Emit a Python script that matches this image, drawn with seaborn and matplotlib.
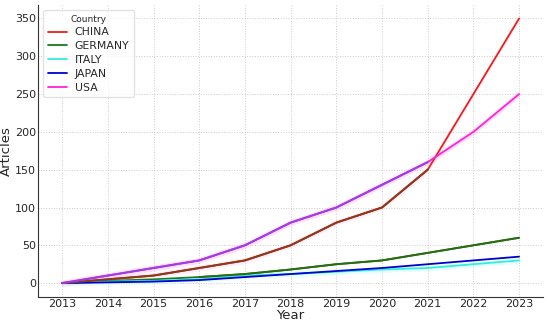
import numpy as np
import pandas as pd
import seaborn as sb
import matplotlib.pyplot as plt

years = list(range(2013, 2024))
countries = ["CHINA", "GERMANY", "ITALY", "JAPAN", "USA"]
china = [0, 5, 10, 20, 30, 50, 80, 100, 150, 250, 350]
germany = [0, 3, 5, 8, 12, 18, 25, 30, 40, 50, 60]
italy = [0, 2, 3, 5, 10, 12, 15, 18, 20, 25, 30]
japan = [0, 1, 2, 4, 8, 12, 16, 20, 25, 30, 35]
usa = [0, 10, 20, 30, 50, 80, 100, 130, 160, 200, 250]

colors = {"CHINA": "#ee1c1c", "GERMANY": "#1a7a1a", "ITALY": "#33eedd",
          "JAPAN": "#0000cc", "USA": "#ff22dd"}

df = pd.DataFrame({
    "Year": years * 5,
    "Articles": china + germany + italy + japan + usa,
    "Country": np.repeat(countries, len(years)),
})

sb.set_style("whitegrid")
fig, ax = plt.subplots(figsize=(5.5, 3.24), dpi=100)

# faint bands behind the lines
for c, band in [("USA", "#ff99ee"), ("CHINA", "#ffccee"), ("ITALY", "#aaffff")]:
    d = df[df.Country == c]
    ax.fill_between(d.Year, d.Articles - 4, d.Articles + 4, color=band, alpha=0.3, lw=0)

sb.lineplot(data=df, x="Year", y="Articles", hue="Country", palette=colors,
            linewidth=1.3, ax=ax)

# blended early segments as seen in the reference
d = df[(df.Country == "CHINA") & (df.Year <= 2021)]
ax.plot(d.Year, d.Articles, color="#8b3a1a", lw=1.5, zorder=3)
d = df[(df.Country == "USA") & (df.Year <= 2021)]
ax.plot(d.Year, d.Articles, color="#9b3ee6", lw=1.5, zorder=3)
d = df[(df.Country == "GERMANY") & (df.Year >= 2016)]
ax.plot(d.Year, d.Articles, color="#2a6a10", lw=1.4, zorder=3)

ax.set_xlim(2012.47, 2023.52)
ax.set_ylim(-18.5, 368)
ax.set_xticks(years)
ax.set_yticks(range(0, 351, 50))
ax.tick_params(labelsize=8, length=0, pad=1.5)
ax.set_xlabel("Year", fontsize=9.5, labelpad=0)
ax.set_ylabel("Articles", fontsize=9.5, labelpad=1)
ax.grid(True, linestyle=":", color="#cccccc", linewidth=0.7)
for s in ["top", "right"]:
    ax.spines[s].set_visible(False)
for s in ["left", "bottom"]:
    ax.spines[s].set_color("#333333")
    ax.spines[s].set_linewidth(0.8)

leg = ax.legend(title="Country", loc="upper left", fontsize=7.8, title_fontsize=6.5,
                frameon=True, handlelength=1.8, handletextpad=0.7, borderpad=0.4,
                labelspacing=0.35)
leg.get_frame().set_edgecolor("#dddddd")

fig.subplots_adjust(left=0.069, right=0.987, top=0.985, bottom=0.083)
fig.savefig("out.png", dpi=100)
